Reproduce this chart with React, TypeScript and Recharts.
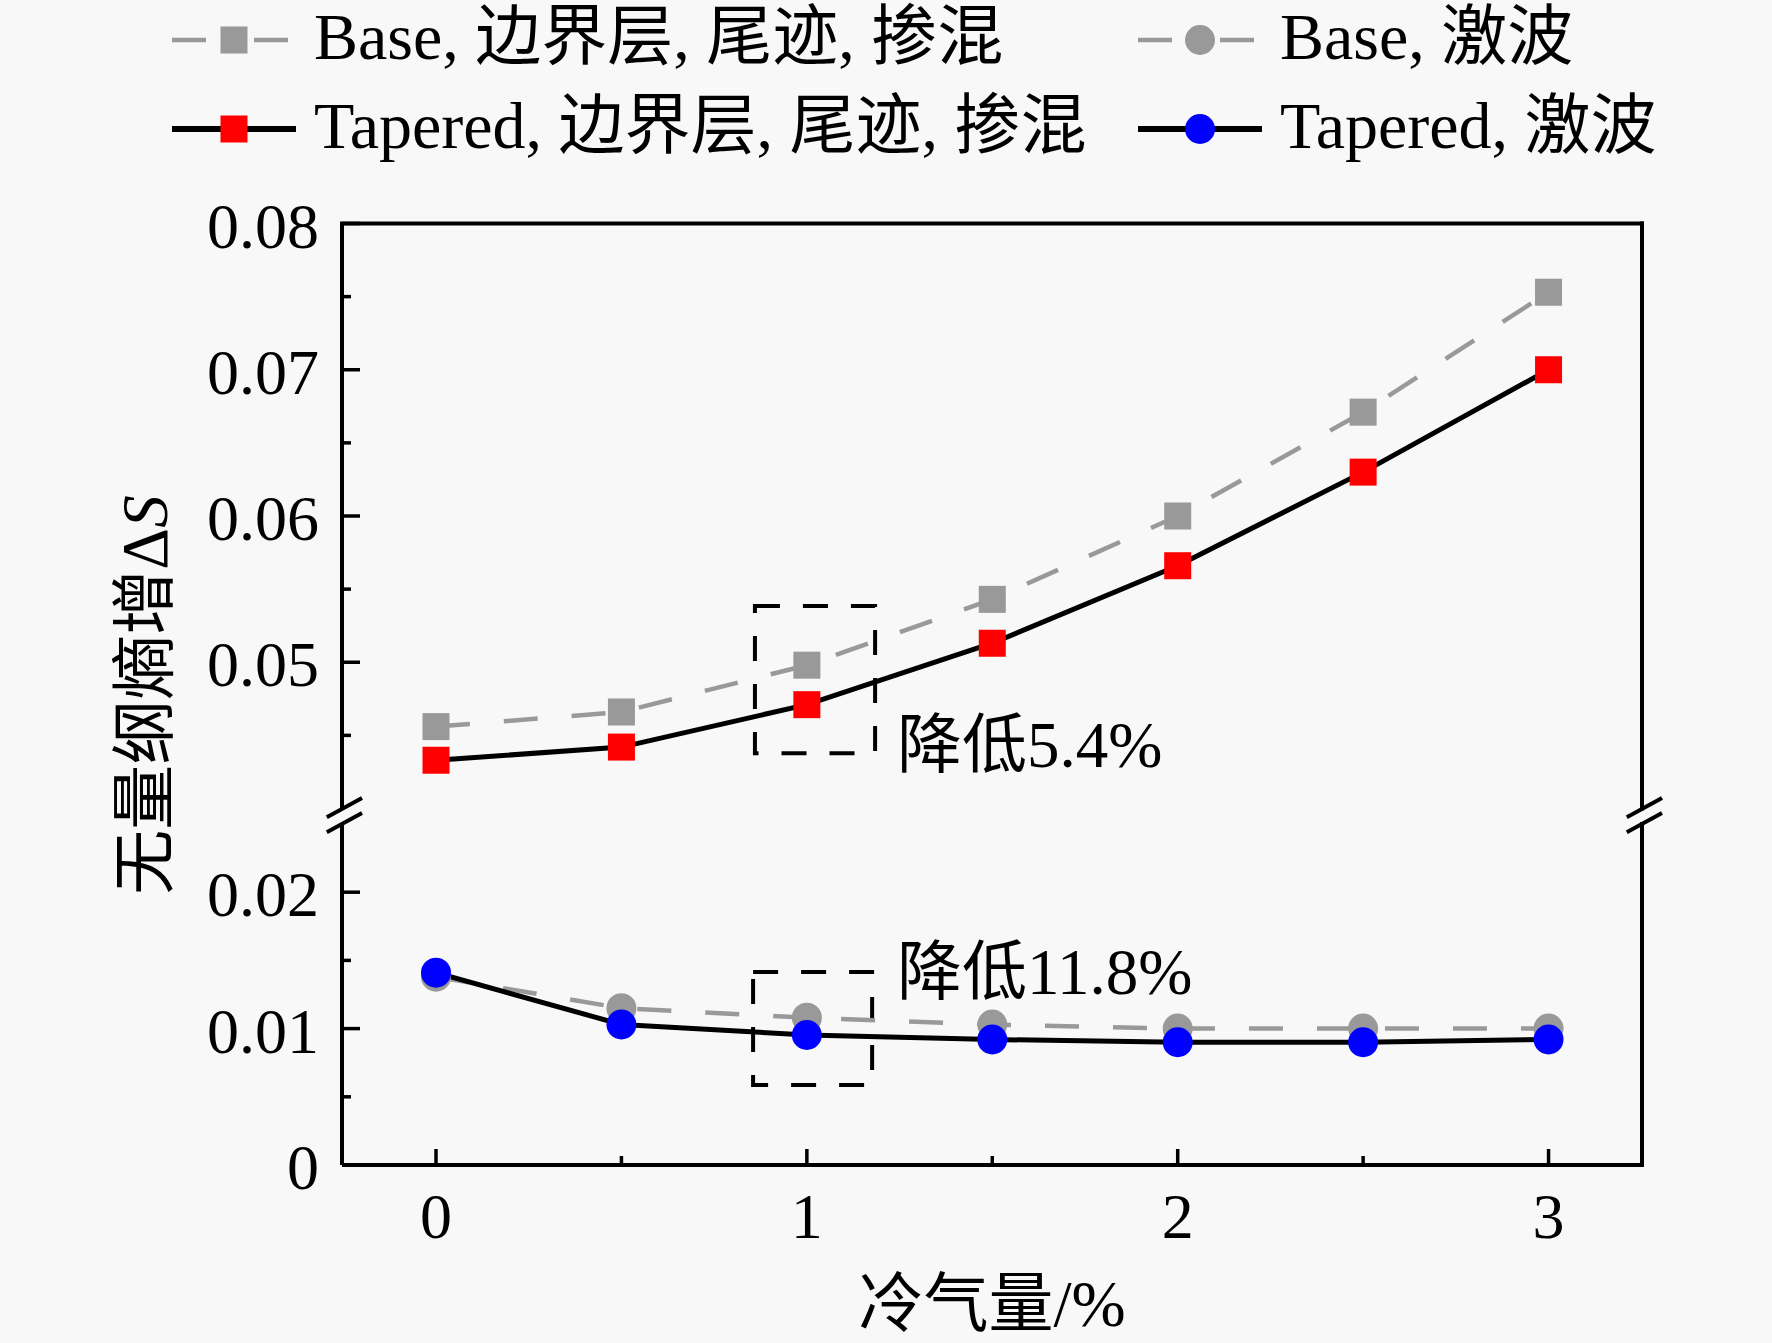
import React from "react";
import {
  LineChart,
  Line,
  XAxis,
  YAxis,
  ReferenceLine,
  ReferenceArea,
  ReferenceDot,
} from "recharts";

const W = 1772;
const H = 1343;
const FONT = "'Liberation Serif', 'Times New Roman', 'Noto Sans CJK SC', serif";
const GRAY = "#999999";
const BG = "#f8f8f8";

// 冷气量 (%)
const coolant = [0, 0.5, 1, 1.5, 2, 2.5, 3];
// 边界层, 尾迹, 掺混
const baseMix = [0.0456, 0.0466, 0.0498, 0.0543, 0.06, 0.0671, 0.0753];
const taperedMix = [0.0433, 0.0442, 0.0471, 0.0513, 0.0566, 0.063, 0.07];
// 激波
const baseShock = [0.0138, 0.0115, 0.0108, 0.0103, 0.01, 0.01, 0.01];
const taperedShock = [0.0141, 0.0103, 0.00953, 0.0092, 0.009, 0.009, 0.0092];

const xTicks = [0, 0.5, 1, 1.5, 2, 2.5, 3];
const xLabelTicks = [0, 1, 2, 3];
const upperTicks = [0.045, 0.05, 0.055, 0.06, 0.065, 0.07, 0.075, 0.08];
const upperLabelTicks = [0.05, 0.06, 0.07, 0.08];
const lowerTicks = [0, 0.005, 0.01, 0.015, 0.02];
const lowerLabelTicks = [0, 0.01, 0.02];

const xDomain = [-0.2535, 3.252];
const upperDomain = [0.04, 0.08];
const lowerDomain = [0, 0.025];

// layout (px)
const PLOT_LEFT = 342;
const PLOT_RIGHT = 1642;
const UP_TOP = 223.5;
const UP_BOTTOM = 808.5;
const LOW_TOP = 824;
const LOW_BOTTOM = 1165;
const Y_AXIS_W = 200;
const X_AXIS_H = 120;

const mixRows = coolant.map((x, i) => ({ x, base: baseMix[i], tapered: taperedMix[i] }));
const shockRows = coolant.map((x, i) => ({ x, base: baseShock[i], tapered: taperedShock[i] }));

type Series = {
  key: "base" | "tapered";
  name: string;
  stroke: string;
  dash?: string;
  width: number;
  marker: "square" | "circle";
  fill: string;
};

const mixSeries: Series[] = [
  { key: "base", name: "Base, 边界层, 尾迹, 掺混", stroke: GRAY, dash: "34 34", width: 4.5, marker: "square", fill: GRAY },
  { key: "tapered", name: "Tapered, 边界层, 尾迹, 掺混", stroke: "#000", width: 5, marker: "square", fill: "#ff0000" },
];
const shockSeries: Series[] = [
  { key: "base", name: "Base, 激波", stroke: GRAY, dash: "34 34", width: 4.5, marker: "circle", fill: GRAY },
  { key: "tapered", name: "Tapered, 激波", stroke: "#000", width: 5, marker: "circle", fill: "#0000ff" },
];

// legend grid: rows = Base / Tapered, cols = mix / shock
const legendRows = [
  [mixSeries[0], shockSeries[0]],
  [mixSeries[1], shockSeries[1]],
];

const isIn = (arr: number[], v: number) => arr.some((a) => Math.abs(a - v) < 1e-9);
const fmtY = (v: number) => (v === 0 ? "0" : v.toFixed(2));

function markerEl(shape: string, cx: number, cy: number, fill: string, key?: any) {
  if (shape === "square")
    return <rect key={key} x={cx - 13.5} y={cy - 13.5} width={27} height={27} fill={fill} />;
  return <circle key={key} cx={cx} cy={cy} r={15} fill={fill} />;
}

const makeYTick = (labels: number[]) => (p: any) => {
  const v = p.payload.value;
  const major = isIn(labels, v);
  return (
    <g>
      <line x1={p.x} x2={p.x + (major ? 18 : 9)} y1={p.y} y2={p.y} stroke="#000" strokeWidth={3.5} />
      {major && (
        <text x={p.x - 23} y={p.y} dy={24} textAnchor="end" fontSize={64} fontFamily={FONT} fill="#000">
          {fmtY(v)}
        </text>
      )}
    </g>
  );
};

const xTick = (p: any) => {
  const v = p.payload.value;
  const major = isIn(xLabelTicks, v);
  return (
    <g>
      <line x1={p.x} x2={p.x} y1={p.y} y2={p.y - (major ? 16 : 9)} stroke="#000" strokeWidth={3.5} />
      {major && (
        <text x={p.x} y={p.y} dy={73} textAnchor="middle" fontSize={64} fontFamily={FONT} fill="#000">
          {v}
        </text>
      )}
    </g>
  );
};

const noteText = (text: string) => (p: any) => (
  <text x={p.cx} y={p.cy} fontSize={65} fontFamily={FONT} fill="#000">
    {text}
  </text>
);

function seriesLines(series: Series[]) {
  return series.map((s) => (
    <Line
      key={s.key}
      type="linear"
      dataKey={s.key}
      stroke={s.stroke}
      strokeWidth={s.width}
      strokeDasharray={s.dash}
      dot={(p: any) => markerEl(s.marker, p.cx, p.cy, s.fill, p.index)}
      activeDot={false}
      isAnimationActive={false}
    />
  ));
}

// "//" axis-break marks, in lower-chart data units
const breakSlashes = [
  { y1: 0.0255, y2: 0.0269 },
  { y1: 0.0244, y2: 0.0258 },
];

const frame = { stroke: "#000", strokeWidth: 4, strokeLinecap: "square" as const };

function UpperChart() {
  return (
    <LineChart
      width={W}
      height={H}
      data={mixRows}
      margin={{ top: UP_TOP, right: W - PLOT_RIGHT, bottom: H - UP_BOTTOM, left: PLOT_LEFT - Y_AXIS_W }}
    >
      <XAxis type="number" dataKey="x" domain={xDomain} allowDataOverflow hide />
      <YAxis
        type="number"
        domain={upperDomain}
        ticks={upperTicks}
        allowDataOverflow
        width={Y_AXIS_W}
        tickSize={0}
        tickMargin={0}
        axisLine={{ stroke: "#000", strokeWidth: 4 }}
        tickLine={false}
        tick={makeYTick(upperLabelTicks)}
        interval={0}
      />
      <ReferenceLine y={upperDomain[1]} {...frame} ifOverflow="visible" />
      <ReferenceLine x={xDomain[1]} {...frame} ifOverflow="visible" />
      <ReferenceArea
        x1={0.86}
        x2={1.184}
        y1={0.04377}
        y2={0.05384}
        fill="none"
        stroke="#000"
        strokeWidth={4}
        strokeDasharray="25 23"
        ifOverflow="visible"
      />
      {seriesLines(mixSeries)}
      <ReferenceDot x={1.243} y={0.04284} ifOverflow="visible" shape={noteText("降低5.4%")} />
    </LineChart>
  );
}

function LowerChart() {
  return (
    <LineChart
      width={W}
      height={H}
      data={shockRows}
      margin={{ top: LOW_TOP, right: W - PLOT_RIGHT, bottom: H - LOW_BOTTOM - X_AXIS_H, left: PLOT_LEFT - Y_AXIS_W }}
    >
      <XAxis
        type="number"
        dataKey="x"
        domain={xDomain}
        ticks={xTicks}
        allowDataOverflow
        height={X_AXIS_H}
        tickSize={0}
        tickMargin={0}
        axisLine={{ stroke: "#000", strokeWidth: 4 }}
        tickLine={false}
        tick={xTick}
        interval={0}
      />
      <YAxis
        type="number"
        domain={lowerDomain}
        ticks={lowerTicks}
        allowDataOverflow
        width={Y_AXIS_W}
        tickSize={0}
        tickMargin={0}
        axisLine={{ stroke: "#000", strokeWidth: 4 }}
        tickLine={false}
        tick={makeYTick(lowerLabelTicks)}
        interval={0}
      />
      <ReferenceLine x={xDomain[1]} {...frame} ifOverflow="visible" />
      {xDomain.map((edge) =>
        breakSlashes.map((b, i) => (
          <ReferenceLine
            key={`${edge}-${i}`}
            segment={[
              { x: edge - 0.041, y: b.y1 },
              { x: edge + 0.054, y: b.y2 },
            ]}
            stroke="#000"
            strokeWidth={4}
            ifOverflow="visible"
          />
        ))
      )}
      <ReferenceArea
        x1={0.855}
        x2={1.176}
        y1={0.00587}
        y2={0.01415}
        fill="none"
        stroke="#000"
        strokeWidth={4}
        strokeDasharray="25 23"
        ifOverflow="visible"
      />
      {seriesLines(shockSeries)}
      <ReferenceDot x={1.243} y={0.01254} ifOverflow="visible" shape={noteText("降低11.8%")} />
    </LineChart>
  );
}

function Overlay() {
  const colX = [172, 1138];
  const rowBase = [59, 148];
  return (
    <svg width={W} height={H} style={{ position: "absolute", left: 0, top: 0, pointerEvents: "none" }}>
      {legendRows.map((row, r) =>
        row.map((s, c) => {
          const x0 = colX[c];
          const cy = rowBase[r] - 19;
          return (
            <g key={`${r}-${c}`}>
              {s.dash ? (
                <line x1={x0} x2={x0 + 116} y1={cy} y2={cy} stroke={s.stroke} strokeWidth={s.width} strokeDasharray="34 48" />
              ) : (
                <line x1={x0} x2={x0 + 124} y1={cy} y2={cy} stroke={s.stroke} strokeWidth={s.width + 1} />
              )}
              {markerEl(s.marker, x0 + 62, cy, s.fill)}
              <text x={x0 + 142} y={rowBase[r]} fontSize={66} fontFamily={FONT} fill="#000">
                {s.name}
              </text>
            </g>
          );
        })
      )}
      <text
        x={145}
        y={695}
        transform="rotate(-90 145 695)"
        textAnchor="middle"
        dominantBaseline="central"
        fontSize={65}
        fontFamily={FONT}
        fill="#000"
      >
        无量纲熵增Δ<tspan style={{ fontStyle: "italic" }}>S</tspan>
      </text>
      <text x={(PLOT_LEFT + PLOT_RIGHT) / 2} y={1326} textAnchor="middle" fontSize={65} fontFamily={FONT} fill="#000">
        冷气量/%
      </text>
    </svg>
  );
}

export default function App() {
  return (
    <div style={{ position: "absolute", left: 0, top: 0, width: W, height: H, background: BG, overflow: "hidden" }}>
      <div style={{ position: "absolute", left: 0, top: 0 }}>
        <LowerChart />
      </div>
      <div style={{ position: "absolute", left: 0, top: 0 }}>
        <UpperChart />
      </div>
      <Overlay />
    </div>
  );
}
